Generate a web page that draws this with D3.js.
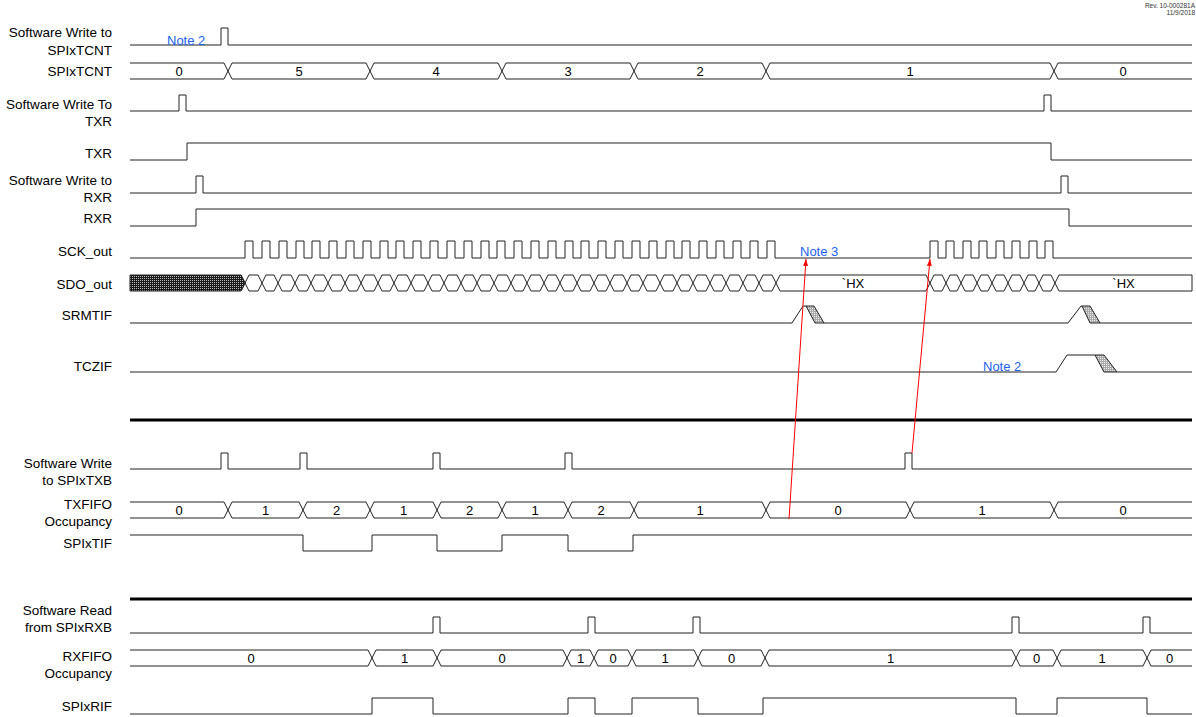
<!DOCTYPE html>
<html>
<head>
<meta charset="utf-8">
<style>
  body { margin: 0; background: #fff; }
  text { font-family: "Liberation Sans", Arial, sans-serif; }
  .sig { fill: none; stroke: #222; stroke-width: 1px; }
  .sep { fill: none; stroke: #000; stroke-width: 3px; }
  .lbl { font-size: 13.5px; fill: #000; text-anchor: end; }
  .val { font-size: 13px; fill: #000; text-anchor: middle; }
  .note { font-size: 13px; fill: #2062f0; }
  .rev { font-size: 6.5px; fill: #333; text-anchor: end; }
  .arrow { stroke: #f00; stroke-width: 1px; fill: none; }
</style>
<script src="https://cdn.jsdelivr.net/npm/d3@7"></script>
</head>
<body>
<script>
// time runs in diagram units, left edge of the traces to the right edge
var tStart = 130, tEnd = 1192;

// upper section
var swTcntPulses = [221];
var tcntEdges = [228, 370, 502, 634, 766, 1054];
var tcntValues = ["0", "5", "4", "3", "2", "1", "0"];
var swTxrPulses = [179, 1044];
var txrEdges = [187, 1051];          // starts low
var swRxrPulses = [196, 1061];
var rxrEdges = [196, 1069];          // starts low
var sckRise1 = [245, 262, 279, 296, 312, 329, 346, 363, 380, 396, 413, 430, 447, 464, 481, 497,
                514, 531, 548, 565, 581, 598, 615, 632, 649, 666, 682, 699, 716, 733, 750, 767];
var sckRise2 = [930, 946, 963, 979, 996, 1012, 1029, 1045];
var sdoBits1 = [245, 262, 278, 295, 311, 328, 345, 361, 378, 394, 411, 428, 444, 461, 477, 494, 511,
                527, 544, 560, 577, 594, 610, 627, 643, 660, 677, 693, 710, 726, 743, 759, 776];
var sdoBits2 = [930, 946, 961, 977, 992, 1008, 1024, 1039, 1055];
var sdoIdle = [{ from: 776, to: 930, text: "`HX" }, { from: 1055, to: 1192, text: "`HX" }];
var srmtifEvents = [
  { r0: 792, r1: 803, h0: 806, h1: 814, h2: 815, h3: 824 },
  { r0: 1068, r1: 1081, h0: 1082, h1: 1090, h2: 1090, h3: 1100 }
];
var tczifEvents = [
  { r0: 1056, r1: 1067, h0: 1095, h1: 1104, h2: 1104, h3: 1117 }
];

// TX fifo section
var swTxbPulses = [221, 300, 433, 565, 905];
var txfifoEdges = [228, 303, 370, 437, 502, 568, 634, 766, 910, 1054];
var txfifoValues = ["0", "1", "2", "1", "2", "1", "2", "1", "0", "1", "0"];
var tifEdges = [303, 372, 437, 502, 568, 633];   // starts high

// RX fifo section
var swRxbPulses = [433, 588, 693, 1012, 1143];
var rxfifoEdges = [372, 437, 567, 594, 632, 698, 765, 1016, 1057, 1147];
var rxfifoValues = ["0", "1", "0", "1", "0", "1", "0", "1", "0", "1", "0"];
var rifEdges = [372, 433, 568, 595, 632, 698, 763, 1016, 1057, 1147];   // starts low

var notes = [
  { text: "Note 2", t: 167, y: 40 },
  { text: "Note 3", t: 800, y: 251 },
  { text: "Note 2", t: 983, y: 366 }
];
var arrows = [
  { t0: 789, y0: 519, t1: 806, y1: 259 },
  { t0: 912, y0: 453, t1: 930, y1: 259 }
];

var labels = [
  { lines: ["Software Write to", "SPIxTCNT"], y: [32, 50] },
  { lines: ["SPIxTCNT"], y: [71] },
  { lines: ["Software Write To", "TXR"], y: [104, 121] },
  { lines: ["TXR"], y: [153] },
  { lines: ["Software Write to", "RXR"], y: [180, 197] },
  { lines: ["RXR"], y: [218] },
  { lines: ["SCK_out"], y: [251] },
  { lines: ["SDO_out"], y: [284] },
  { lines: ["SRMTIF"], y: [315] },
  { lines: ["TCZIF"], y: [366] },
  { lines: ["Software Write", "to SPIxTXB"], y: [463, 480] },
  { lines: ["TXFIFO", "Occupancy"], y: [504, 521] },
  { lines: ["SPIxTIF"], y: [543] },
  { lines: ["Software Read", "from SPIxRXB"], y: [610, 627] },
  { lines: ["RXFIFO", "Occupancy"], y: [656, 673] },
  { lines: ["SPIxRIF"], y: [706] }
];

var W = 1196, H = 717;
var x = d3.scaleLinear().domain([tStart, tEnd]).range([130, 1192]);
var PW = 7, HX = 4;

var svg = d3.select("body").append("svg")
  .attr("width", W)
  .attr("height", H);

var defs = svg.append("defs");
var dark = defs.append("pattern").attr("id", "darkDots")
  .attr("width", 2).attr("height", 2).attr("patternUnits", "userSpaceOnUse");
dark.append("rect").attr("width", 2).attr("height", 2).attr("fill", "#1a1a1a");
dark.append("rect").attr("width", 1).attr("height", 1).attr("fill", "#bbb");
var light = defs.append("pattern").attr("id", "lightDots")
  .attr("width", 2).attr("height", 2).attr("patternUnits", "userSpaceOnUse");
light.append("rect").attr("width", 2).attr("height", 2).attr("fill", "#aaa");
light.append("rect").attr("width", 1).attr("height", 1).attr("fill", "#eee");
defs.append("marker").attr("id", "head")
  .attr("viewBox", "0 0 10 10").attr("refX", 10).attr("refY", 5)
  .attr("markerWidth", 7).attr("markerHeight", 7)
  .attr("orient", "auto")
  .append("path").attr("d", "M0,1.5L10,5L0,8.5Z").attr("fill", "#f00");

function pulseRow(lo, hi, starts, w) {
  var p = d3.path();
  p.moveTo(x(tStart), lo);
  starts.forEach(function(s) {
    p.lineTo(x(s), lo);
    p.lineTo(x(s), hi);
    p.lineTo(x(s + w), hi);
    p.lineTo(x(s + w), lo);
  });
  p.lineTo(x(tEnd), lo);
  svg.append("path").attr("class", "sig").attr("d", p.toString());
}

function levelRow(lo, hi, startHigh, edges) {
  var p = d3.path();
  var lvl = startHigh;
  p.moveTo(x(tStart), lvl ? hi : lo);
  edges.forEach(function(e) {
    p.lineTo(x(e), lvl ? hi : lo);
    lvl = !lvl;
    p.lineTo(x(e), lvl ? hi : lo);
  });
  p.lineTo(x(tEnd), lvl ? hi : lo);
  svg.append("path").attr("class", "sig").attr("d", p.toString());
}

function busRow(top, bot, edges, values) {
  var p = d3.path();
  var mid = (top + bot) / 2;
  for (var i = 0; i <= edges.length; i++) {
    var a = i == 0 ? x(tStart) : x(edges[i - 1]) + HX;
    var b = i == edges.length ? x(tEnd) : x(edges[i]) - HX;
    p.moveTo(a, top); p.lineTo(b, top);
    p.moveTo(a, bot); p.lineTo(b, bot);
    if (values && values[i] != null) {
      var ca = i == 0 ? tStart : edges[i - 1];
      var cb = i == edges.length ? tEnd : edges[i];
      svg.append("text").attr("class", "val")
        .attr("x", (x(ca) + x(cb)) / 2).attr("y", mid).attr("dy", "0.36em")
        .text(values[i]);
    }
  }
  edges.forEach(function(e) {
    p.moveTo(x(e) - HX, top); p.lineTo(x(e) + HX, bot);
    p.moveTo(x(e) - HX, bot); p.lineTo(x(e) + HX, top);
  });
  svg.append("path").attr("class", "sig").attr("d", p.toString());
}

function flagRow(lo, hi, events) {
  var p = d3.path();
  p.moveTo(x(tStart), lo);
  events.forEach(function(ev) {
    p.lineTo(x(ev.r0), lo);
    p.lineTo(x(ev.r1), hi);
    p.lineTo(x(ev.h0), hi);
    p.moveTo(x(ev.h3), lo);
  });
  p.lineTo(x(tEnd), lo);
  svg.append("path").attr("class", "sig").attr("d", p.toString());
  svg.selectAll(null).data(events).enter().append("path")
    .attr("d", function(ev) {
      return "M" + x(ev.h0) + "," + hi + "L" + x(ev.h1) + "," + hi +
        "L" + x(ev.h3) + "," + lo + "L" + x(ev.h2) + "," + lo + "Z";
    })
    .attr("fill", "url(#lightDots)")
    .attr("stroke", "#222");
}

// ---- upper section
pulseRow(45, 28, swTcntPulses, PW);
busRow(63, 79, tcntEdges, tcntValues);
pulseRow(111, 95, swTxrPulses, PW);
levelRow(160, 143, false, txrEdges);
pulseRow(193, 176, swRxrPulses, PW);
levelRow(226, 209, false, rxrEdges);
pulseRow(258, 241, sckRise1.concat(sckRise2), 8);

// SDO_out: bit cells, idle boxes and the undefined stretch before the first clock
var sdoEdges = sdoBits1.concat(sdoBits2);
(function() {
  var top = 275, bot = 291, mid = 283;
  var p = d3.path();
  for (var i = 1; i < sdoEdges.length; i++) {
    var a = x(sdoEdges[i - 1]) + HX, b = x(sdoEdges[i]) - HX;
    p.moveTo(a, top); p.lineTo(b, top);
    p.moveTo(a, bot); p.lineTo(b, bot);
  }
  var last = sdoEdges[sdoEdges.length - 1];
  p.moveTo(x(last) + HX, top); p.lineTo(x(tEnd), top); p.lineTo(x(tEnd), bot); p.lineTo(x(last) + HX, bot);
  sdoEdges.forEach(function(e) {
    p.moveTo(x(e) - HX, top); p.lineTo(x(e) + HX, bot);
    p.moveTo(x(e) - HX, bot); p.lineTo(x(e) + HX, top);
  });
  svg.append("path").attr("class", "sig").attr("d", p.toString());
  svg.append("path")
    .attr("d", "M" + x(tStart) + "," + top + "L" + (x(sdoBits1[0]) - HX) + "," + top +
      "L" + x(sdoBits1[0]) + "," + mid + "L" + (x(sdoBits1[0]) - HX) + "," + bot +
      "L" + x(tStart) + "," + bot + "Z")
    .attr("fill", "url(#darkDots)").attr("stroke", "#222");
  svg.selectAll(null).data(sdoIdle).enter().append("text")
    .attr("class", "val")
    .attr("x", function(d) { return (x(d.from) + x(d.to)) / 2; })
    .attr("y", mid).attr("dy", "0.36em")
    .text(function(d) { return d.text; });
})();

flagRow(323, 306, srmtifEvents);
flagRow(372, 355, tczifEvents);

svg.append("line").attr("class", "sep")
  .attr("x1", x(tStart)).attr("x2", x(tEnd)).attr("y1", 420).attr("y2", 420);

// ---- TX fifo section
pulseRow(469, 453, swTxbPulses, PW);
busRow(502, 518, txfifoEdges, txfifoValues);
levelRow(551, 535, true, tifEdges);

svg.append("line").attr("class", "sep")
  .attr("x1", x(tStart)).attr("x2", x(tEnd)).attr("y1", 599).attr("y2", 599);

// ---- RX fifo section
pulseRow(633, 617, swRxbPulses, PW);
busRow(650, 666, rxfifoEdges, rxfifoValues);
levelRow(714, 698, false, rifEdges);

// labels
labels.forEach(function(l) {
  l.lines.forEach(function(s, i) {
    svg.append("text").attr("class", "lbl")
      .attr("x", 112).attr("y", l.y[i]).attr("dy", "0.36em")
      .text(s);
  });
});

// notes and arrows
svg.selectAll(".note").data(notes).enter().append("text")
  .attr("class", "note")
  .attr("x", function(d) { return x(d.t); })
  .attr("y", function(d) { return d.y; })
  .attr("dy", "0.36em")
  .text(function(d) { return d.text; });

svg.selectAll(".arrow").data(arrows).enter().append("line")
  .attr("class", "arrow")
  .attr("x1", function(d) { return x(d.t0); })
  .attr("y1", function(d) { return d.y0; })
  .attr("x2", function(d) { return x(d.t1); })
  .attr("y2", function(d) { return d.y1; })
  .attr("marker-end", "url(#head)");

svg.append("text").attr("class", "rev").attr("x", 1195).attr("y", 8).text("Rev. 10-000281A");
svg.append("text").attr("class", "rev").attr("x", 1195).attr("y", 15).text("11/9/2018");
</script>
</body>
</html>
